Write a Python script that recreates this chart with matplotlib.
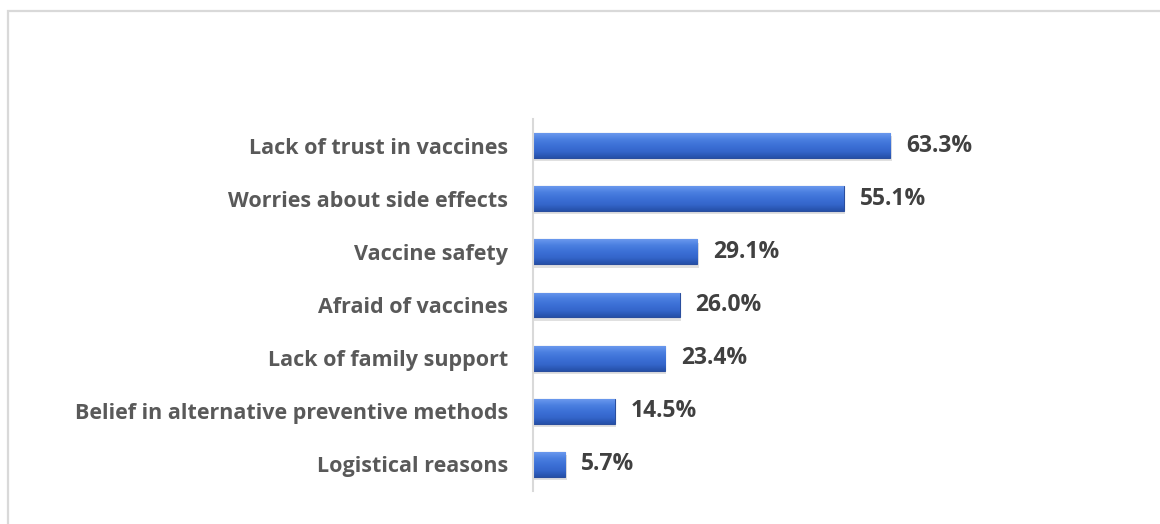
import matplotlib
matplotlib.use("Agg")
import matplotlib.pyplot as plt
import numpy as np
from matplotlib.colors import LinearSegmentedColormap
from matplotlib.patches import Rectangle

categories = ["Lack of trust in vaccines", "Worries about side effects", "Vaccine safety",
              "Afraid of vaccines", "Lack of family support",
              "Belief in alternative preventive methods", "Logistical reasons"]
values = [63.3, 55.1, 29.1, 26.0, 23.4, 14.5, 5.7]
value_labels = ["63.3%", "55.1%", "29.1%", "26.0%", "23.4%", "14.5%", "5.7%"]

fig = plt.figure(figsize=(11.6, 5.24), dpi=100)
fig.patch.set_facecolor("white")
ax = fig.add_axes([533/1160, 1-491/524, 395/1160, (491-119)/524])

y = np.arange(len(categories))
bh = 0.47
# soft shadow
ax.barh(y + 0.06, values, height=bh, left=0.25, color="#000000", alpha=0.12, zorder=1, linewidth=0)
bars = ax.barh(y, values, height=bh, color="#3A6FD6", edgecolor="#2A4E9E", linewidth=0.8, zorder=2)

cmap = LinearSegmentedColormap.from_list("bev", ["#6A98EE", "#4A7FE0", "#3C70D6", "#3465CA", "#2550A8"])
grad = np.linspace(0, 1, 100).reshape(-1, 1)
for b in bars:
    x0, y0 = b.get_x(), b.get_y()
    w, h = b.get_width(), b.get_height()
    im = ax.imshow(grad, cmap=cmap, aspect="auto", extent=[x0, x0 + w, y0 + h, y0],
                   zorder=2.5, interpolation="bicubic")
    im.set_clip_path(b)

ax.set_ylim(len(categories) - 0.5, -0.5)
ax.set_xlim(0, 70)
ax.set_yticks(y)
ax.set_yticklabels(categories, fontsize=15.5, fontweight="bold", color="#595959", family="Open Sans")
ax.tick_params(axis="y", length=0, pad=18)
ax.set_xticks([])
for s in ["top", "right", "bottom"]:
    ax.spines[s].set_visible(False)
ax.spines["left"].set_color("#D9D9D9")
ax.spines["left"].set_linewidth(1.5)

for yi, v, lab in zip(y, values, value_labels):
    ax.text(v + 2.8, yi, lab, va="center", ha="left", fontsize=16.5, fontweight="bold",
            color="#404040", family="Open Sans")

fig.patches.append(Rectangle((8/1160, -0.2), 1.2, 1 - 11/524 + 0.2, transform=fig.transFigure,
                             fill=False, edgecolor="#D9D9D9", linewidth=1.6))

fig.savefig("out.png", dpi=100)
